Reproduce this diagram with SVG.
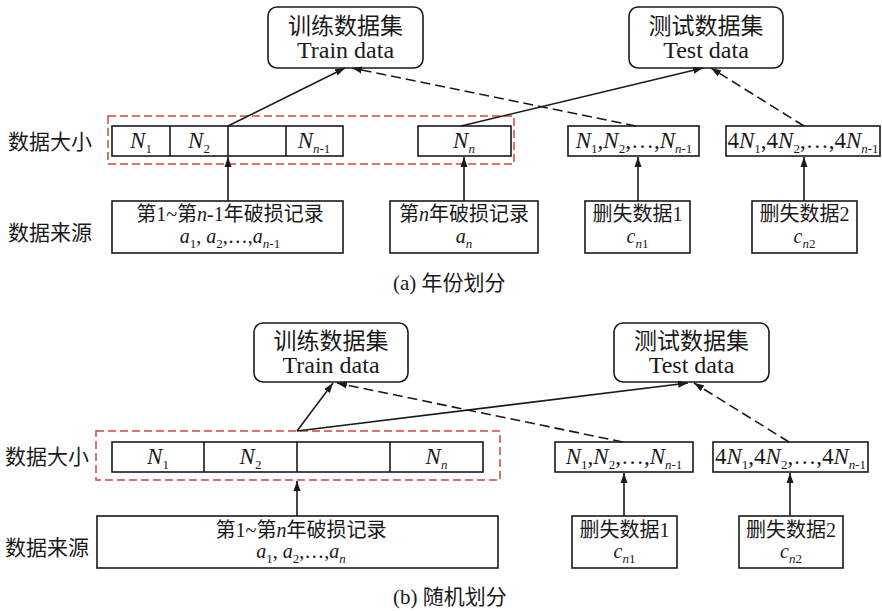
<svg xmlns="http://www.w3.org/2000/svg" width="882" height="611" viewBox="0 0 882 611">
<style>
  text { font-family: "Liberation Serif", "Noto Sans CJK SC", serif; fill: #1a1a1a; }
  .box { fill: #fff; stroke: #1a1a1a; stroke-width: 1.6; }
  .grp { fill: none; stroke: #d0453f; stroke-width: 1.5; stroke-dasharray: 8 4; }
  .ln { fill: none; stroke: #1a1a1a; stroke-width: 1.6; }
  .dash { stroke-dasharray: 10 5; }
  .t23 { font-size: 23px; }
  .t24 { font-size: 24px; }
  .t21 { font-size: 21px; }
  .t20 { font-size: 20px; }
  .t22 { font-size: 23px; }
  .i { font-style: italic; }
  .s { font-size: 13px; }
  .c { text-anchor: middle; }
</style>
<defs>
  <marker id="ah" markerUnits="userSpaceOnUse" markerWidth="10" markerHeight="8" refX="10" refY="4" orient="auto">
    <path d="M0,0.5 L10,4 L0,7.5 z" fill="#1a1a1a"/>
  </marker>
</defs>

<!-- ============ (a) ============ -->
<g id="a-labels">
  <text class="t21" x="8" y="149">数据大小</text>
  <text class="t21" x="8" y="240">数据来源</text>
  <text class="t21" x="393" y="290">(a) 年份划分</text>
</g>
<g id="a-group">
  <rect class="grp" x="108" y="116" width="406" height="48"/>
</g>
<g id="a-train">
  <rect class="box" x="268" y="7" width="155" height="61" rx="9"/>
  <text class="t23 c" x="345.5" y="34">训练数据集</text>
  <text class="t24 c" x="345.5" y="58">Train data</text>
</g>
<g id="a-test">
  <rect class="box" x="629" y="7" width="154" height="61" rx="9"/>
  <text class="t23 c" x="706" y="34">测试数据集</text>
  <text class="t24 c" x="706" y="58">Test data</text>
</g>
<g id="a-cells">
  <rect class="box" x="112" y="126" width="231" height="30"/>
  <line class="ln" x1="170" y1="126" x2="170" y2="156"/>
  <line class="ln" x1="228" y1="126" x2="228" y2="156"/>
  <line class="ln" x1="286" y1="126" x2="286" y2="156"/>
  <text class="t22 c" x="141" y="148"><tspan class="i">N</tspan><tspan class="s" dy="5">1</tspan></text>
  <text class="t22 c" x="199" y="148"><tspan class="i">N</tspan><tspan class="s" dy="5">2</tspan></text>
  <text class="t22 c" x="314" y="148"><tspan class="i">N</tspan><tspan class="s" dy="5"><tspan class="i">n</tspan>-1</tspan></text>
</g>
<g id="a-nn">
  <rect class="box" x="418" y="126" width="93" height="30"/>
  <text class="t22 c" x="464" y="148"><tspan class="i">N</tspan><tspan class="s i" dy="5">n</tspan></text>
</g>
<g id="a-n1">
  <rect class="box" x="568" y="126" width="131" height="30"/>
  <text class="t22 c" x="634" y="148"><tspan class="i">N</tspan><tspan class="s" dy="5">1</tspan><tspan dy="-5">,</tspan><tspan class="i">N</tspan><tspan class="s" dy="5">2</tspan><tspan dy="-5">,…,</tspan><tspan class="i">N</tspan><tspan class="s" dy="5"><tspan class="i">n</tspan>-1</tspan></text>
</g>
<g id="a-n4">
  <rect class="box" x="726" y="126" width="154" height="30"/>
  <text class="t22 c" x="803" y="148">4<tspan class="i">N</tspan><tspan class="s" dy="5">1</tspan><tspan dy="-5">,4</tspan><tspan class="i">N</tspan><tspan class="s" dy="5">2</tspan><tspan dy="-5">,…,4</tspan><tspan class="i">N</tspan><tspan class="s" dy="5"><tspan class="i">n</tspan>-1</tspan></text>
</g>
<g id="a-src1">
  <rect class="box" x="112" y="201" width="231" height="52"/>
  <text class="t20 c" x="230" y="221">第1~第<tspan class="i">n</tspan>-1年破损记录</text>
  <text class="t20 c" x="230" y="243"><tspan class="i">a</tspan><tspan class="s" dy="5">1</tspan><tspan dy="-5">, </tspan><tspan class="i">a</tspan><tspan class="s" dy="5">2</tspan><tspan dy="-5">,…,</tspan><tspan class="i">a</tspan><tspan class="s" dy="5"><tspan class="i">n</tspan>-1</tspan></text>
</g>
<g id="a-src2">
  <rect class="box" x="390" y="201" width="148" height="52"/>
  <text class="t20 c" x="464" y="221">第<tspan class="i">n</tspan>年破损记录</text>
  <text class="t20 c" x="464" y="243"><tspan class="i">a</tspan><tspan class="s i" dy="5">n</tspan></text>
</g>
<g id="a-src3">
  <rect class="box" x="585" y="201" width="105" height="52"/>
  <text class="t20 c" x="637.5" y="221">删失数据1</text>
  <text class="t20 c" x="637.5" y="243"><tspan class="i">c</tspan><tspan class="s" dy="5"><tspan class="i">n</tspan>1</tspan></text>
</g>
<g id="a-src4">
  <rect class="box" x="752" y="201" width="105" height="52"/>
  <text class="t20 c" x="804.5" y="221">删失数据2</text>
  <text class="t20 c" x="804.5" y="243"><tspan class="i">c</tspan><tspan class="s" dy="5"><tspan class="i">n</tspan>2</tspan></text>
</g>
<g id="a-connectors">
  <line class="ln" x1="228" y1="201" x2="228" y2="157" marker-end="url(#ah)"/>
  <line class="ln" x1="228" y1="126" x2="345" y2="68" marker-end="url(#ah)"/>
  <line class="ln dash" x1="636" y1="126" x2="352" y2="68" marker-end="url(#ah)"/>
  <line class="ln" x1="461" y1="126" x2="703" y2="68" marker-end="url(#ah)"/>
  <line class="ln dash" x1="804" y1="126" x2="711" y2="68" marker-end="url(#ah)"/>
  <line class="ln" x1="464" y1="201" x2="464" y2="157" marker-end="url(#ah)"/>
  <line class="ln" x1="638" y1="201" x2="638" y2="157" marker-end="url(#ah)"/>
  <line class="ln" x1="804" y1="201" x2="804" y2="157" marker-end="url(#ah)"/>
</g>

<!-- ============ (b) ============ -->
<g id="b-labels">
  <text class="t21" x="5" y="464">数据大小</text>
  <text class="t21" x="5" y="555">数据来源</text>
  <text class="t21" x="393" y="604">(b) 随机划分</text>
</g>
<g id="b-group">
  <rect class="grp" x="96" y="431" width="404" height="49"/>
</g>
<g id="b-train">
  <rect class="box" x="254" y="323" width="154" height="59" rx="9"/>
  <text class="t23 c" x="331" y="349">训练数据集</text>
  <text class="t24 c" x="331" y="373">Train data</text>
</g>
<g id="b-test">
  <rect class="box" x="614" y="323" width="155" height="59" rx="9"/>
  <text class="t23 c" x="691.5" y="349">测试数据集</text>
  <text class="t24 c" x="691.5" y="373">Test data</text>
</g>
<g id="b-cells">
  <rect class="box" x="112" y="442" width="371" height="30"/>
  <line class="ln" x1="204" y1="442" x2="204" y2="472"/>
  <line class="ln" x1="297" y1="442" x2="297" y2="472"/>
  <line class="ln" x1="390" y1="442" x2="390" y2="472"/>
  <text class="t22 c" x="158" y="464"><tspan class="i">N</tspan><tspan class="s" dy="5">1</tspan></text>
  <text class="t22 c" x="250.5" y="464"><tspan class="i">N</tspan><tspan class="s" dy="5">2</tspan></text>
  <text class="t22 c" x="436.5" y="464"><tspan class="i">N</tspan><tspan class="s i" dy="5">n</tspan></text>
</g>
<g id="b-n1">
  <rect class="box" x="555" y="442" width="138" height="30"/>
  <text class="t22 c" x="624" y="464"><tspan class="i">N</tspan><tspan class="s" dy="5">1</tspan><tspan dy="-5">,</tspan><tspan class="i">N</tspan><tspan class="s" dy="5">2</tspan><tspan dy="-5">,…,</tspan><tspan class="i">N</tspan><tspan class="s" dy="5"><tspan class="i">n</tspan>-1</tspan></text>
</g>
<g id="b-n4">
  <rect class="box" x="713" y="442" width="155" height="30"/>
  <text class="t22 c" x="790.5" y="464">4<tspan class="i">N</tspan><tspan class="s" dy="5">1</tspan><tspan dy="-5">,4</tspan><tspan class="i">N</tspan><tspan class="s" dy="5">2</tspan><tspan dy="-5">,…,4</tspan><tspan class="i">N</tspan><tspan class="s" dy="5"><tspan class="i">n</tspan>-1</tspan></text>
</g>
<g id="b-src1">
  <rect class="box" x="97" y="516" width="401" height="52"/>
  <text class="t20 c" x="301" y="537">第1~第<tspan class="i">n</tspan>年破损记录</text>
  <text class="t20 c" x="301" y="558"><tspan class="i">a</tspan><tspan class="s" dy="5">1</tspan><tspan dy="-5">, </tspan><tspan class="i">a</tspan><tspan class="s" dy="5">2</tspan><tspan dy="-5">,…,</tspan><tspan class="i">a</tspan><tspan class="s i" dy="5">n</tspan></text>
</g>
<g id="b-src3">
  <rect class="box" x="572" y="516" width="105" height="52"/>
  <text class="t20 c" x="624.5" y="537">删失数据1</text>
  <text class="t20 c" x="624.5" y="558"><tspan class="i">c</tspan><tspan class="s" dy="5"><tspan class="i">n</tspan>1</tspan></text>
</g>
<g id="b-src4">
  <rect class="box" x="739" y="516" width="104" height="52"/>
  <text class="t20 c" x="791" y="537">删失数据2</text>
  <text class="t20 c" x="791" y="558"><tspan class="i">c</tspan><tspan class="s" dy="5"><tspan class="i">n</tspan>2</tspan></text>
</g>
<g id="b-connectors">
  <line class="ln" x1="297" y1="516" x2="297" y2="481" marker-end="url(#ah)"/>
  <line class="ln" x1="297" y1="431" x2="333" y2="383" marker-end="url(#ah)"/>
  <line class="ln" x1="297" y1="431" x2="688" y2="383" marker-end="url(#ah)"/>
  <line class="ln dash" x1="623" y1="442" x2="337" y2="383" marker-end="url(#ah)"/>
  <line class="ln dash" x1="789" y1="442" x2="694" y2="383" marker-end="url(#ah)"/>
  <line class="ln" x1="624" y1="516" x2="624" y2="473" marker-end="url(#ah)"/>
  <line class="ln" x1="790" y1="516" x2="790" y2="473" marker-end="url(#ah)"/>
</g>
</svg>
